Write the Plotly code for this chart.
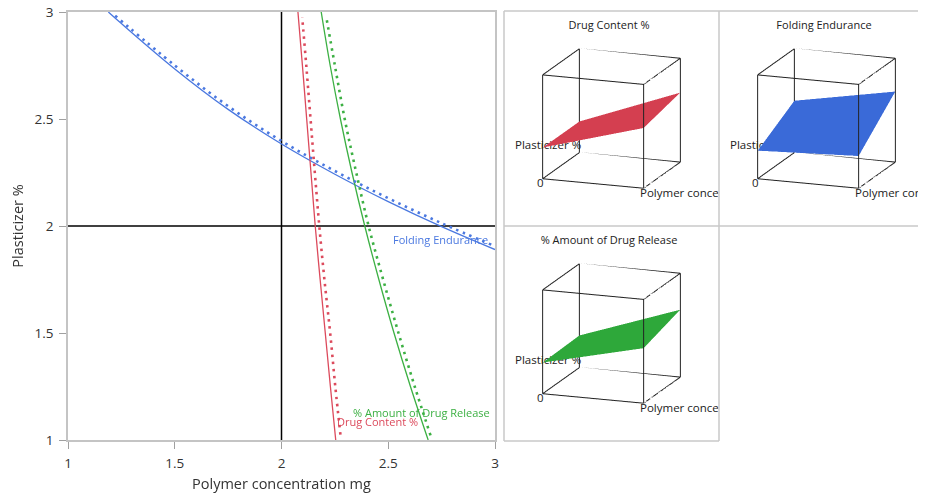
import plotly.graph_objects as go

W, H = 926, 497
OFF = 8  # page body margin in the viewer

# ---------------- Contour profiler data ----------------
# Drug Content % contour: x (Polymer concentration mg) read at y (Plasticizer %)
dc_y = [1.0, 1.25, 1.5, 1.75, 2.0, 2.25, 2.5, 2.75, 3.0]
dc_x = [2.254, 2.229, 2.205, 2.181, 2.158, 2.138, 2.118, 2.098, 2.077]
dc_dot_y = [1.025, 1.25, 1.5, 1.75, 2.0, 2.25, 2.5, 2.75, 2.975]
dc_dot_x = [2.276, 2.252, 2.228, 2.201, 2.177, 2.156, 2.136, 2.116, 2.097]

# % Amount of Drug Release contour
dr_y = [1.0, 1.25, 1.5, 1.75, 2.0, 2.25, 2.5, 2.75, 3.0]
dr_x = [2.687, 2.604, 2.527, 2.456, 2.390, 2.330, 2.276, 2.228, 2.186]
dr_dot_y = [1.022, 1.25, 1.5, 1.75, 2.0, 2.25, 2.5, 2.75, 2.975]
dr_dot_x = [2.698, 2.624, 2.548, 2.476, 2.408, 2.350, 2.296, 2.250, 2.210]

# Folding Endurance contour: y read at x
fe_x = [1.189, 1.25, 1.5, 1.75, 2.0, 2.25, 2.5, 2.75, 3.0]
fe_y = [3.0, 2.946, 2.734, 2.545, 2.383, 2.242, 2.114, 1.997, 1.89]
fe_dot_x = [1.221, 1.5, 1.75, 2.0, 2.25, 2.5, 2.75, 2.985]
fe_dot_y = [2.983, 2.75, 2.56, 2.397, 2.257, 2.13, 2.013, 1.912]

# Current factor settings (crosshair)
current_polymer = 2
current_plasticizer = 2

x_ticks = [1, 1.5, 2, 2.5, 3]
y_ticks = [1, 1.5, 2, 2.5, 3]
x_tick_labels = ["1", "1.5", "2", "2.5", "3"]
y_tick_labels = ["1", "1.5", "2", "2.5", "3"]
x_range = [1, 3]
y_range = [1, 3]

# ---------------- Surface plot data (relative response height) ----------------
surf_x = [1, 3]  # Polymer concentration
surf_y = [1, 3]  # Plasticizer %
dc_surface = [[0.30, 0.58], [0.30, 0.67]]
fe_surface = [[0.27, 0.31], [0.50, 0.68]]
dr_surface = [[0.30, 0.53], [0.31, 0.65]]
z_range = [0, 1]

RED = "#dc4a5c"
GREEN = "#3cb043"
BLUE = "#4a78e0"
RED_S = "#d43f50"
GREEN_S = "#2ea83a"
BLUE_S = "#3a6ad8"
FONT = "Open Sans"

fig = go.Figure()

# crosshair
fig.add_trace(go.Scatter(x=[current_polymer, current_polymer], y=y_range, mode="lines",
                         line=dict(color="black", width=1.5), hoverinfo="skip"))
fig.add_trace(go.Scatter(x=x_range, y=[current_plasticizer, current_plasticizer], mode="lines",
                         line=dict(color="black", width=1.5), hoverinfo="skip"))

dot = "2.5px,4.6px"
for xs, ys, c in [(fe_x, fe_y, BLUE), (dc_x, dc_y, RED), (dr_x, dr_y, GREEN)]:
    fig.add_trace(go.Scatter(x=xs, y=ys, mode="lines", line=dict(color=c, width=1.3, shape="spline"),
                             hoverinfo="skip"))
for xs, ys, c in [(fe_dot_x, fe_dot_y, BLUE), (dc_dot_x, dc_dot_y, RED), (dr_dot_x, dr_dot_y, GREEN)]:
    fig.add_trace(go.Scatter(x=xs, y=ys, mode="lines", line=dict(color=c, width=2.6, shape="spline", dash=dot),
                             hoverinfo="skip"))

# contour labels
fig.add_annotation(x=2.977, y=1.936, text="Folding Endurance", showarrow=False, xanchor="right",
                   font=dict(family=FONT, size=11, color=BLUE))
fig.add_annotation(x=2.985, y=1.127, text="% Amount of Drug Release", showarrow=False, xanchor="right",
                   font=dict(family=FONT, size=11, color=GREEN))
fig.add_annotation(x=2.249, y=1.088, text="Drug Content %", showarrow=False, xanchor="left",
                   font=dict(family=FONT, size=11, color=RED))


def px_x(p):
    return min(max((p - OFF) / W, 0), 1)


def px_y(p):
    return min(max(1 - (p - OFF) / H, 0), 1)


axis_common = dict(showgrid=False, zeroline=False, showline=True, linecolor="#c4c4c4", linewidth=1.5,
                   mirror=True, ticks="outside", ticklen=7, tickcolor="#a0a0a0", tickwidth=1,
                   automargin=False, ticklabelstandoff=3, ticklabeloverflow="allow",
                   tickfont=dict(family=FONT, size=13.5, color="#333333"))
fig.update_layout(
    xaxis=dict(domain=[px_x(68), px_x(495)], range=x_range, tickvals=x_ticks, ticktext=x_tick_labels,
               title=dict(text="Polymer concentration mg", font=dict(family=FONT, size=14.5, color="#333333"),
                          standoff=8), **axis_common),
    yaxis=dict(domain=[px_y(440), px_y(12)], range=y_range, tickvals=y_ticks, ticktext=y_tick_labels,
               title=dict(text="Plasticizer %", font=dict(family=FONT, size=14.5, color="#333333"),
                          standoff=9), **axis_common),
)

# ---------------- surface panels ----------------
cells = [  # (left, top) of each cell in px, size 215
    ("Drug Content %", dc_surface, RED_S, 504, 11),
    ("Folding Endurance", fe_surface, BLUE_S, 719, 11),
    ("% Amount of Drug Release", dr_surface, GREEN_S, 504, 226),
]
CELL = 215

c = (0.330, -0.908, 0.259)
k = 2.1


def box_edges(xr, yr, zr):
    xs, ys, zs = [], [], []
    corners = [(x, y, z) for x in xr for y in yr for z in zr]
    for i, a in enumerate(corners):
        for b in corners[i + 1:]:
            diff = sum(1 for u, v in zip(a, b) if u != v)
            if diff == 1:
                xs += [a[0], b[0], None]
                ys += [a[1], b[1], None]
                zs += [a[2], b[2], None]
    return xs, ys, zs


bx, by, bz = box_edges(surf_x, surf_y, z_range)

for i, (title, zs, col, cx, cy) in enumerate(cells, start=1):
    sname = "scene" if i == 1 else f"scene{i}"
    right = cx + CELL
    fig.add_trace(go.Surface(x=surf_x, y=surf_y, z=zs, colorscale=[[0, col], [1, col]], showscale=False,
                             lighting=dict(ambient=1, diffuse=0, specular=0, roughness=1, fresnel=0),
                             hoverinfo="skip", scene=sname))
    fig.add_trace(go.Scatter3d(x=bx, y=by, z=bz, mode="lines", line=dict(color="#222222", width=2),
                               hoverinfo="skip", scene=sname))
    fig.update_layout(**{sname: dict(
        domain=dict(x=[px_x(cx), px_x(right)], y=[px_y(cy + CELL), px_y(cy)]),
        xaxis=dict(visible=False, range=surf_x), yaxis=dict(visible=False, range=surf_y),
        zaxis=dict(visible=False, range=z_range), aspectmode="cube", bgcolor="rgba(0,0,0,0)",
        camera=dict(eye=dict(x=c[0] * k, y=c[1] * k, z=c[2] * k), up=dict(x=0, y=0, z=1),
                    center=dict(x=0, y=0, z=0), projection=dict(type="orthographic")),
    )})
    # text layer for the cell (2D axes, clipped to the cell)
    xa, ya = f"x{i + 1}", f"y{i + 1}"
    fig.update_layout(**{
        f"xaxis{i + 1}": dict(domain=[px_x(cx), px_x(right)], range=[0, CELL], visible=False,
                              anchor=ya, fixedrange=True, automargin=False),
        f"yaxis{i + 1}": dict(domain=[px_y(cy + CELL), px_y(cy)], range=[CELL, 0], visible=False,
                              anchor=xa, fixedrange=True, automargin=False),
    })
    fig.add_trace(go.Scatter(x=[105], y=[15], mode="text", text=[title], textposition="middle center",
                             textfont=dict(family=FONT, size=11, color="#222222"), xaxis=xa, yaxis=ya,
                             hoverinfo="skip", cliponaxis=True))
    fig.add_trace(go.Scatter(x=[11, 33, 136], y=[135, 173, 183], mode="text",
                             text=["Plasticizer %", "0", "Polymer concentration mg"],
                             textposition="middle right",
                             textfont=dict(family=FONT, size=11.5, color="#222222"), xaxis=xa, yaxis=ya,
                             hoverinfo="skip", cliponaxis=True))

# cell borders
GRID = "#c8c8c8"
for x0, y0, x1, y1 in [(504, 11, 934, 11), (504, 226, 934, 226), (504, 441, 719, 441),
                       (504, 11, 504, 441), (719, 11, 719, 441)]:
    fig.add_shape(type="line", xref="paper", yref="paper", x0=px_x(x0), y0=px_y(y0), x1=px_x(x1), y1=px_y(y1),
                  line=dict(color=GRID, width=1.5))

fig.update_layout(width=W, height=H, margin=dict(l=0, r=0, t=0, b=0, pad=0, autoexpand=False),
                  showlegend=False, paper_bgcolor="white", plot_bgcolor="white", font=dict(family=FONT))

fig.write_html("out.html")
